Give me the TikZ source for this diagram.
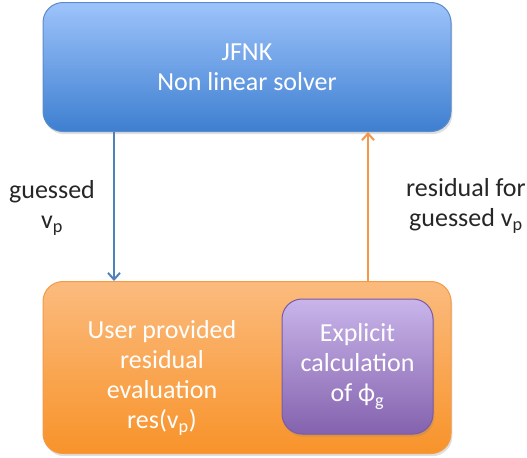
\documentclass[tikz,border=0pt]{standalone}
\usepackage{fontspec}
\setmainfont{Carlito}
\usetikzlibrary{shadows, arrows.meta}

\definecolor{jfnktop}{HTML}{9DC3FB}
\definecolor{jfnkbottom}{HTML}{3E7FD0}
\definecolor{jfnkline}{HTML}{5B8BCB}
\definecolor{restop}{HTML}{FBBB7E}
\definecolor{resbottom}{HTML}{F8932A}
\definecolor{resline}{HTML}{F59A45}
\definecolor{phitop}{HTML}{C9B5EA}
\definecolor{phibottom}{HTML}{8462AE}
\definecolor{philine}{HTML}{7A5BA5}
\definecolor{guessline}{HTML}{4F81BD}
\definecolor{residline}{HTML}{F79646}

\begin{document}
\begin{tikzpicture}[x=0.75pt, y=-0.75pt, >={Straight Barb[length=5pt, width=9pt]},
box/.style = {rectangle, rounded corners=15pt, align=center, text=white, line width=0.75pt,
  font=\fontsize{19.5}{22.5}\selectfont,
  drop shadow={opacity=0.25, shadow xshift=1pt, shadow yshift=-2pt}},
note/.style = {align=center, text=black!85, font=\fontsize{19.5}{22.5}\selectfont}]
\useasboundingbox (0,0) rectangle (527,457);
\node[box, draw=jfnkline, top color=jfnktop, bottom color=jfnkbottom,
  minimum width=306pt, minimum height=96.75pt] at (247,67) (jfnk) {JFNK\\Non linear solver};
\node[box, draw=resline, top color=restop, bottom color=resbottom,
  minimum width=306pt, minimum height=129pt] at (247,367.5) (res) {};
\node[note, text=white] at (162,378) (restext) {User provided\\residual\\evaluation\\res(v\textsubscript{p})};
\node[box, draw=philine, top color=phitop, bottom color=phibottom,
  minimum width=113.25pt, minimum height=101.25pt] at (357.5,366.5) (phi) {Explicit\\calculation\\of ϕ\textsubscript{g}};
\node[note] at (52,208) (guessed) {guessed\\v\textsubscript{p}};
\node[note] at (466,206) (residual) {residual for\\guessed v\textsubscript{p}};
\coordinate (gx) at (114,0);
\coordinate (rx) at (368,0);
\draw [->, guessline, line width=1.5pt] (jfnk.south -| gx) -- (res.north -| gx);
\draw [->, residline, line width=1.5pt] (res.north -| rx) -- (jfnk.south -| rx);
\end{tikzpicture}
\end{document}
